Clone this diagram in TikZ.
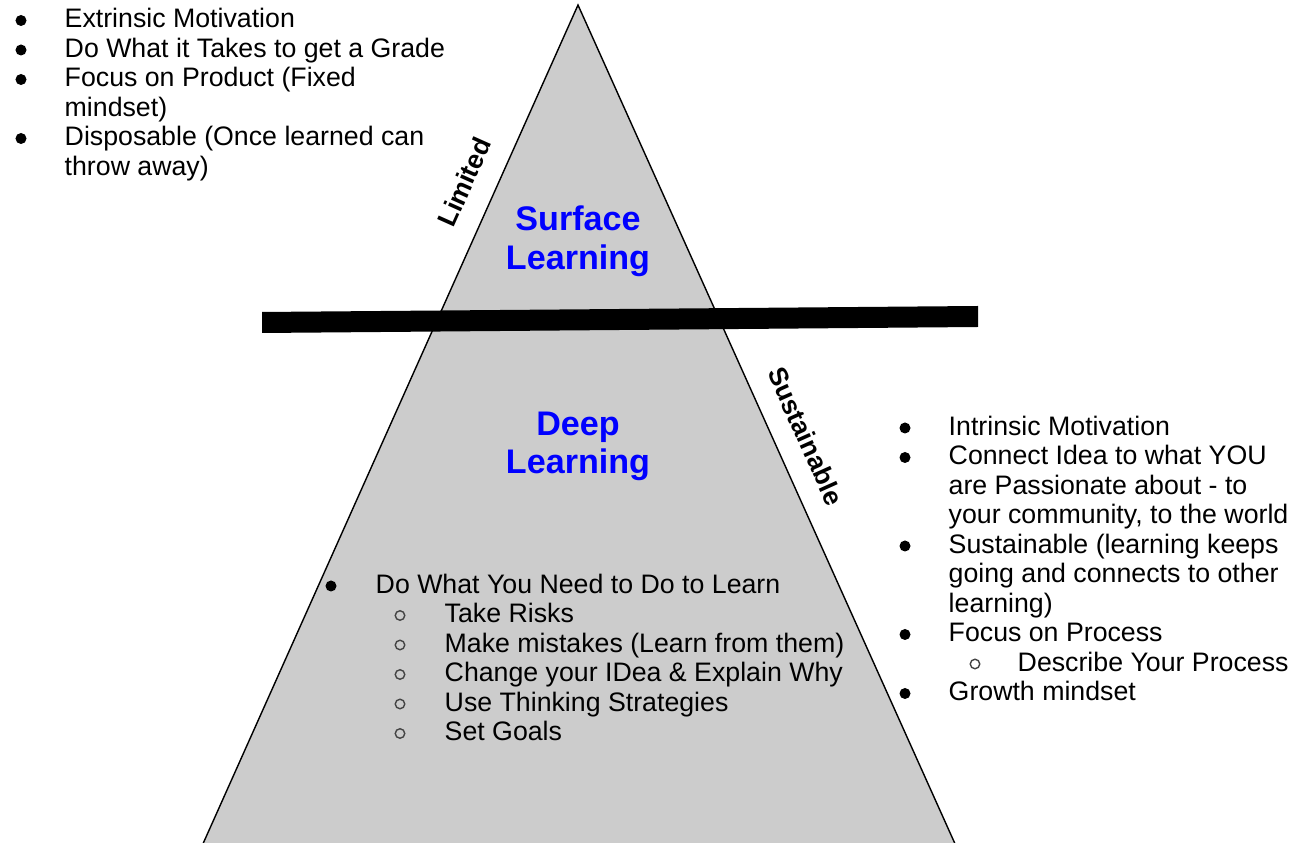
\documentclass[tikz,border=0pt]{standalone}
\usepackage{fontspec}
\setmainfont{Liberation Sans}
\definecolor{trigray}{HTML}{CCCCCC}
\definecolor{titleblue}{HTML}{0000FF}
\definecolor{hollow}{HTML}{444444}
\tikzset{
  item/.style={anchor=base west, inner sep=0pt, font=\fontsize{7.6}{8.4}\selectfont},
  bul/.style={circle, fill=black, inner sep=0pt, minimum size=0.11cm},
  sbul/.style={circle, draw=hollow, line width=0.4pt, inner sep=0pt, minimum size=0.095cm},
  titletext/.style={anchor=base, inner sep=0pt, text=titleblue, font=\fontsize{9.7}{10.9}\selectfont\bfseries},
  sidelabel/.style={inner sep=0pt, font=\fontsize{7.5}{8.4}\selectfont\bfseries}
}
\begin{document}
\begin{tikzpicture}[x=0.01cm, y=-0.01cm]
\useasboundingbox (0,0) rectangle (1293,843);
\clip (0,0) rectangle (1293,843);
% triangle
\coordinate (apex) at (578,5);
\coordinate (bl) at (202,846);
\coordinate (br) at (956,846);
\filldraw[fill=trigray, draw=black, line width=0.4pt] (apex) -- (br) -- (bl) -- cycle;
% bar
\fill[black] (262,312) -- (978,306) -- (978,327) -- (262,333) -- cycle;
% titles
\node[titletext] (s1) at (578,231) {Surface};
\node[titletext] (s2) at (578,270) {Learning};
\node[titletext] (d1) at (578,436) {Deep};
\node[titletext] (d2) at (578,474) {Learning};
% side labels
\node[sidelabel, rotate=65.9] (lim) at (464,182) {Limited};
\node[sidelabel, rotate=-65.8] (sus) at (806,436) {Sustainable};
% top-left list
\node[bul] (tb1) at (21,20.5) {};
\node[item] (t1) at (64,28) {Extrinsic Motivation};
\node[bul] (tb2) at (21,50) {};
\node[item] (t2) at (64,57.5) {Do What it Takes to get a Grade};
\node[bul] (tb3) at (21,79.5) {};
\node[item] (t3) at (64,87) {Focus on Product (Fixed};
\node[item] (t3b) at (64,116.5) {mindset)};
\node[bul] (tb4) at (21,138.5) {};
\node[item] (t4) at (64,146) {Disposable (Once learned can};
\node[item] (t4b) at (64,175.5) {throw away)};
% right list
\node[bul] (rb1) at (905,428) {};
\node[item] (r1) at (948,435.5) {Intrinsic Motivation};
\node[bul] (rb2) at (905,457.5) {};
\node[item] (r2) at (948,465) {Connect Idea to what YOU};
\node[item] (r2b) at (948,494.5) {are Passionate about - to};
\node[item] (r2c) at (948,524) {your community, to the world};
\node[bul] (rb3) at (905,546) {};
\node[item] (r3) at (948,553.5) {Sustainable (learning keeps};
\node[item] (r3b) at (948,583) {going and connects to other};
\node[item] (r3c) at (948,612.5) {learning)};
\node[bul] (rb4) at (905,634.5) {};
\node[item] (r4) at (948,642) {Focus on Process};
\node[sbul] (rs1) at (975,664) {};
\node[item] (r4a) at (1017,671.5) {Describe Your Process};
\node[bul] (rb5) at (905,693.5) {};
\node[item] (r5) at (948,701) {Growth mindset};
% bottom list
\node[bul] (bb1) at (331,586) {};
\node[item] (b1) at (375,593.5) {Do What You Need to Do to Learn};
\node[sbul] (bs1) at (400,615.5) {};
\node[item] (b1a) at (444,623) {Take Risks};
\node[sbul] (bs2) at (400,645) {};
\node[item] (b1b) at (444,652.5) {Make mistakes (Learn from them)};
\node[sbul] (bs3) at (400,674.5) {};
\node[item] (b1c) at (444,682) {Change your IDea \& Explain Why};
\node[sbul] (bs4) at (400,704) {};
\node[item] (b1d) at (444,711.5) {Use Thinking Strategies};
\node[sbul] (bs5) at (400,733.5) {};
\node[item] (b1e) at (444,741) {Set Goals};
\end{tikzpicture}
\end{document}
